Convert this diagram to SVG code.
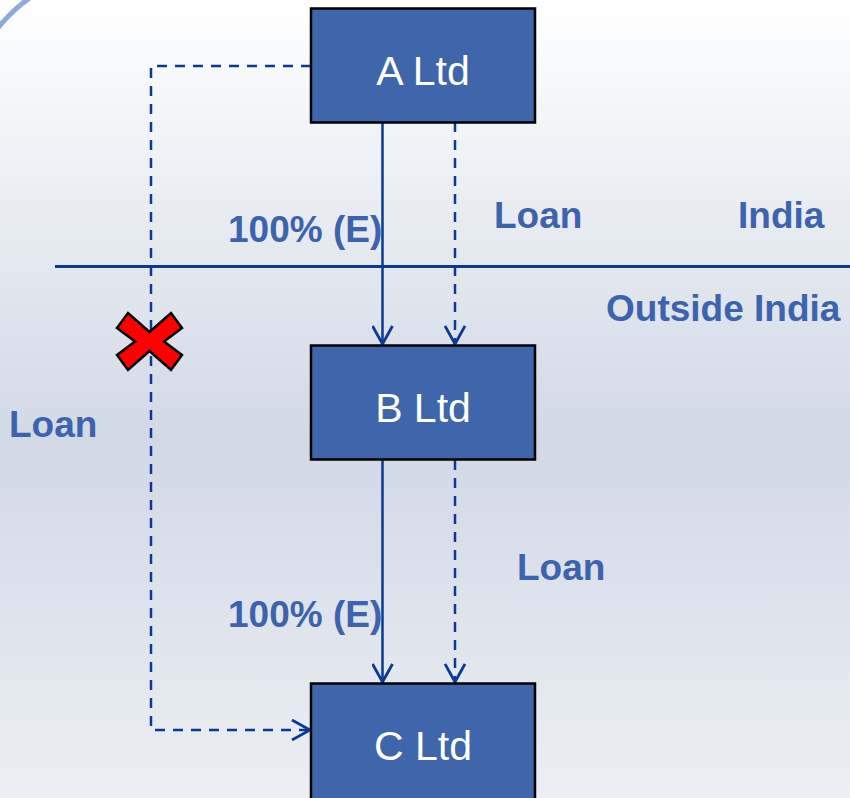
<svg xmlns="http://www.w3.org/2000/svg" width="850" height="798" viewBox="0 0 850 798">
  <defs>
    <linearGradient id="bg" x1="0" y1="0" x2="0" y2="1">
      <stop offset="0" stop-color="#ffffff"/>
      <stop offset="0.55" stop-color="#d1d9e5"/>
      <stop offset="1" stop-color="#eceff4"/>
    </linearGradient>
    <marker id="vee" viewBox="0 0 20 22" refX="19" refY="11" markerWidth="20" markerHeight="22" markerUnits="userSpaceOnUse" orient="auto">
      <path d="M1 1 L19 11 L1 21" fill="none" stroke="#0b3a93" stroke-width="2.8"/>
    </marker>
    <style>
      .box rect { fill: #3f66aa; stroke: #000; stroke-width: 2.5; }
      .box text { fill: #fff; font-family: "Liberation Sans", Arial, sans-serif; font-size: 41px; text-anchor: middle; }
      .lbl { fill: #3d63ad; font-family: "Liberation Sans", Arial, sans-serif; font-size: 37px; font-weight: bold; }
      .solid { fill: none; stroke: #0b3a93; stroke-width: 2.5; }
      .dash { fill: none; stroke: #0b3a93; stroke-width: 2.5; stroke-dasharray: 10 8; }
    </style>
  </defs>

  <!-- backdrop -->
  <rect width="850" height="798" fill="url(#bg)"/>
  <path d="M -3 29 Q 12 10 31 -3" fill="none" stroke="#8eaad6" stroke-width="5"/>

  <!-- India / outside India border -->
  <line x1="55" y1="266.5" x2="850" y2="266.5" stroke="#0b3a93" stroke-width="3"/>

  <!-- connectors -->
  <g id="connectors">
    <line class="solid" x1="382.5" y1="122" x2="382.5" y2="344" marker-end="url(#vee)"/>
    <line class="dash" x1="455" y1="122" x2="455" y2="344" marker-end="url(#vee)"/>
    <line class="solid" x1="382.5" y1="460" x2="382.5" y2="682" marker-end="url(#vee)"/>
    <line class="dash" x1="455" y1="460" x2="455" y2="682" marker-end="url(#vee)"/>
    <path class="dash" d="M311 66 H151 V730 H310" marker-end="url(#vee)"/>
  </g>

  <!-- entities -->
  <g id="a-ltd" class="box">
    <rect x="311" y="8.5" width="224" height="114"/>
    <text x="423" y="85">A Ltd</text>
  </g>
  <g id="b-ltd" class="box">
    <rect x="311" y="345.5" width="224" height="114"/>
    <text x="423" y="422">B Ltd</text>
  </g>
  <g id="c-ltd" class="box">
    <rect x="311" y="683.5" width="224" height="120"/>
    <text x="423" y="760">C Ltd</text>
  </g>

  <!-- labels -->
  <text class="lbl" x="228" y="242">100% (E)</text>
  <text class="lbl" x="494" y="228">Loan</text>
  <text class="lbl" x="738" y="228">India</text>
  <text class="lbl" x="606" y="321">Outside India</text>
  <text class="lbl" x="9" y="437">Loan</text>
  <text class="lbl" x="517" y="580">Loan</text>
  <text class="lbl" x="228" y="627">100% (E)</text>

  <!-- prohibited route mark -->
  <polygon points="117,328 128,313 149.5,332 171,313 182,328 164,341.5 182,355 171,370 149.5,351 128,370 117,355 135,341.5" fill="#ff0000" stroke="#000" stroke-width="2.5" stroke-linejoin="miter"/>
</svg>
